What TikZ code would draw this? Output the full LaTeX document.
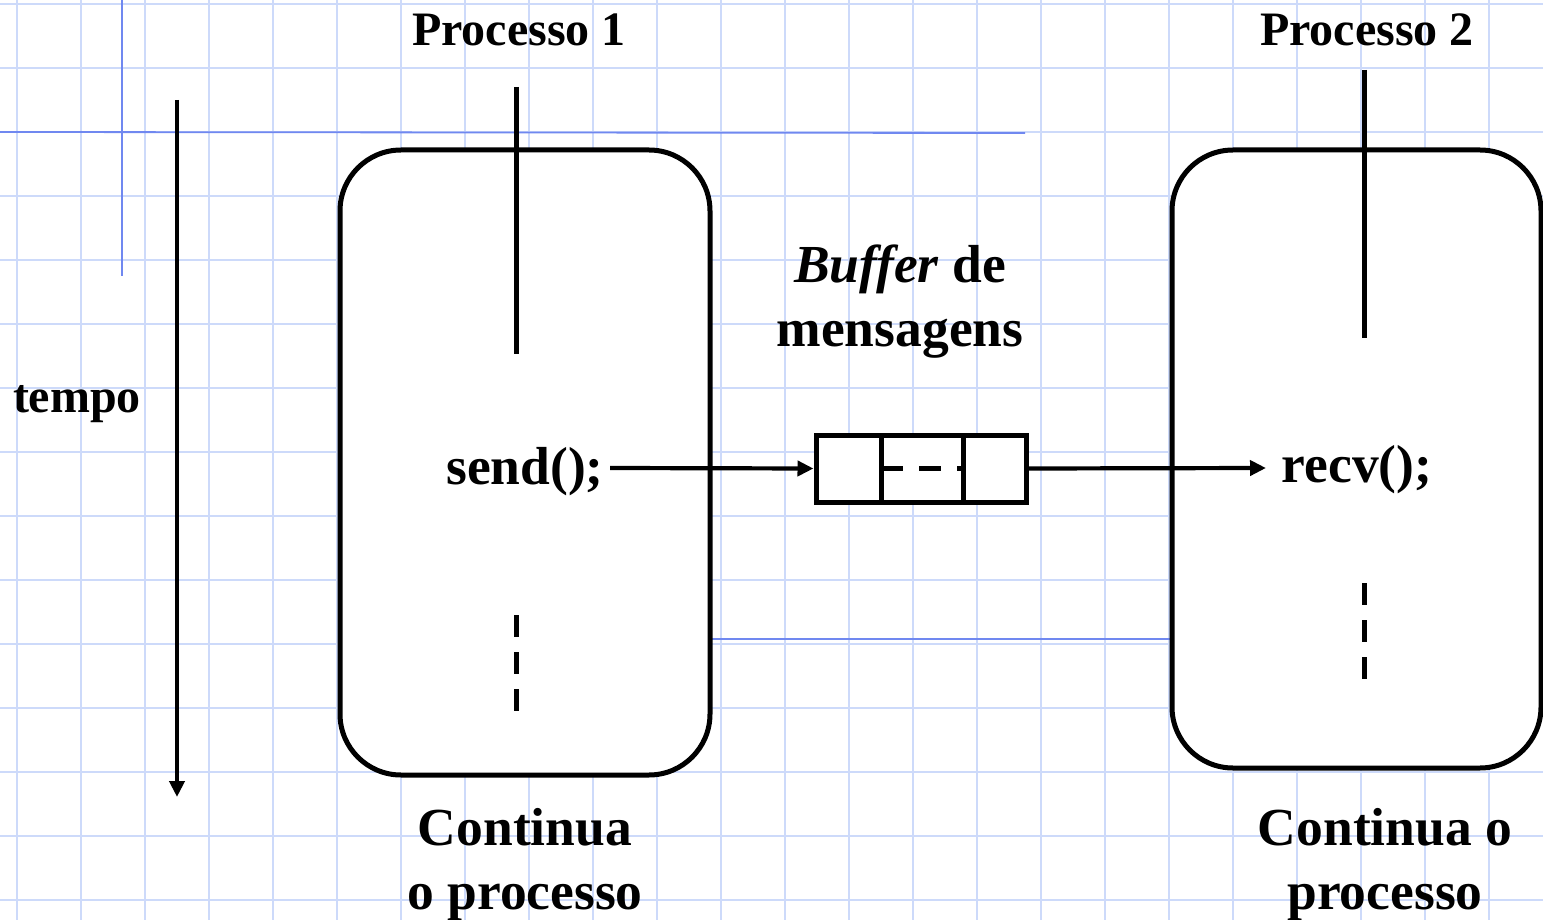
\documentclass[tikz,border=0pt]{standalone}
\usepackage{fontspec}
\setmainfont{Liberation Serif}
\usetikzlibrary{arrows.meta}
\definecolor{gridblue}{RGB}{205,218,250}
\definecolor{darkblue}{RGB}{112,136,240}
\tikzset{
  gridline/.style={draw=gridblue,line width=2pt},
  markline/.style={draw=darkblue,line width=1.8pt},
  procbox/.style={draw=black,fill=white,line width=5pt,rounded corners=61pt},
  thick line/.style={draw=black,line width=5pt},
  dashline/.style={draw=black,line width=5pt,dash pattern=on 22pt off 15pt},
  arrowline/.style={draw=black,line width=4.2pt,-{Triangle[length=16pt,width=15pt]}},
  lbl/.style={font=\fontsize{48}{64}\selectfont\bfseries,inner sep=0pt,align=center},
  biglbl/.style={font=\fontsize{53.5}{64}\selectfont\bfseries,inner sep=0pt,align=center},
}
\begin{document}
\begin{tikzpicture}[x=1pt,y=-1pt]
\useasboundingbox (0,0) rectangle (1543,920);
\fill[white] (0,0) rectangle (1543,920);
% grid
\foreach \i in {0,...,23} { \draw[gridline] (17+64*\i,0) -- (17+64*\i,920); }
\foreach \j in {0,...,14} { \draw[gridline] (0,4+64*\j) -- (1543,4+64*\j); }
% darker guide lines
\draw[markline] (0,132) -- (1025,133);
\draw[markline] (122,0) -- (122,276);
\draw[markline] (700,639) -- (1180,639);
% process boxes
\draw[procbox] (340,150) rectangle (710,775);
\draw[procbox] (1172,150) rectangle (1541,768);
% time arrow
\coordinate (t0) at (177,100);
\coordinate (t1) at (177,797);
\draw[arrowline] (t0) -- (t1);
\node[lbl,anchor=base] (tempo) at (77,412) {tempo};
% process 1
\node[lbl,anchor=base] (p1) at (519,46) {Processo 1};
\coordinate (p1a) at (516,87);
\coordinate (p1b) at (516,354);
\draw[thick line] (p1a) -- (p1b);
\coordinate (p1c) at (516,615);
\coordinate (p1d) at (516,712);
\draw[dashline] (p1c) -- (p1d);
\node[biglbl,anchor=base] (send) at (525,484) {send();};
% process 2
\node[lbl,anchor=base] (p2) at (1367,46) {Processo 2};
\coordinate (p2a) at (1364,70);
\coordinate (p2b) at (1364,338);
\draw[thick line] (p2a) -- (p2b);
\coordinate (p2c) at (1364,583);
\coordinate (p2d) at (1364,679);
\draw[dashline] (p2c) -- (p2d);
\node[biglbl,anchor=base] (recv) at (1357,482) {recv();};
% buffer
\node[draw=black,fill=white,line width=5pt,minimum width=210pt,minimum height=67pt,inner sep=0pt] (buf) at (921,468.5) {};
\draw[thick line] (881,434) -- (881,503);
\draw[thick line] (963,434) -- (963,503);
\draw[draw=black,line width=5pt,dash pattern=on 22pt off 16pt] (881,468) -- (963,468);
\node[biglbl] (buflbl) at (900,302) {\textit{Buffer} de\\mensagens};
% arrows
\coordinate (sendend) at (610,468);
\draw[arrowline] (sendend) -- (buf.west);
\coordinate (recvend) at (1266,468);
\draw[arrowline] (buf.east) -- (recvend);
% bottom labels
\node[biglbl] (c1) at (525,865) {Continua\\o processo};
\node[biglbl] (c2) at (1385,865) {Continua o\\processo};
\end{tikzpicture}
\end{document}
